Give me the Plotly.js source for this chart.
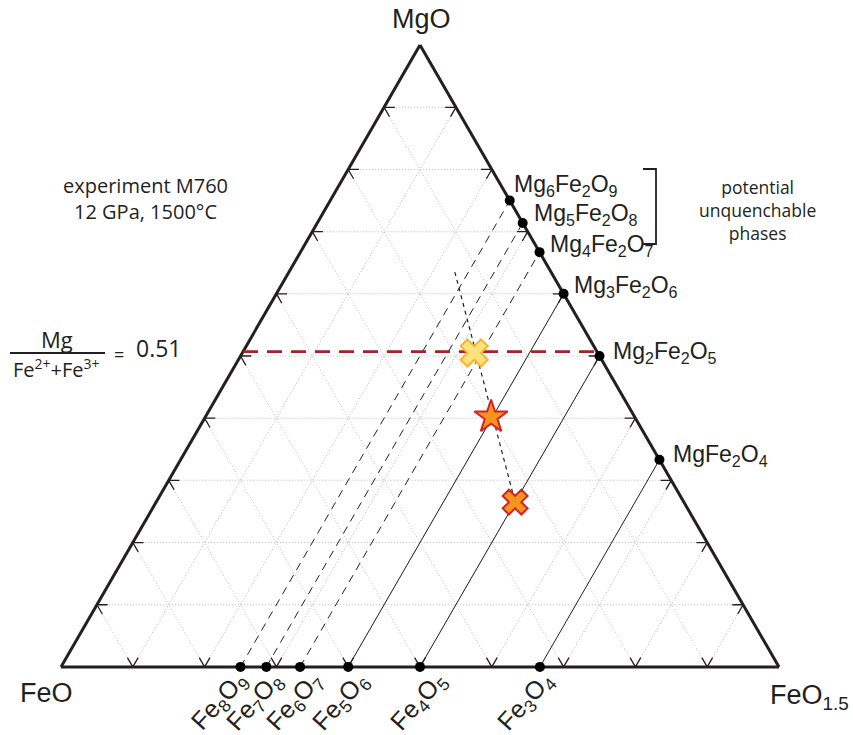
<!DOCTYPE html>
<html><head><meta charset="utf-8">
<script src="https://cdn.plot.ly/plotly-3.0.1.min.js"></script>
<style>html,body{margin:0;padding:0;background:#fff}#chart{width:853px;height:735px}</style>
</head><body><div id="chart"></div>
<script>
// ---------- DATA (ternary fractions: a = MgO, b = FeO, c = FeO1.5) ----------
const cornerLabels = ['MgO', 'FeO', 'FeO<sub>1.5</sub>'];

const edgePhases = ['Mg<sub>6</sub>Fe<sub>2</sub>O<sub>9</sub>', 'Mg<sub>5</sub>Fe<sub>2</sub>O<sub>8</sub>',
  'Mg<sub>4</sub>Fe<sub>2</sub>O<sub>7</sub>', 'Mg<sub>3</sub>Fe<sub>2</sub>O<sub>6</sub>',
  'Mg<sub>2</sub>Fe<sub>2</sub>O<sub>5</sub>', 'MgFe<sub>2</sub>O<sub>4</sub>'];
const edgeMgO   = [0.750, 0.714, 0.667, 0.600, 0.500, 0.333];
const edgeFeO   = [0, 0, 0, 0, 0, 0];
const edgeFeO15 = [0.250, 0.286, 0.333, 0.400, 0.500, 0.667];

const basePhases = ['Fe<sub>8</sub>O<sub>9</sub>', 'Fe<sub>7</sub>O<sub>8</sub>', 'Fe<sub>6</sub>O<sub>7</sub>',
  'Fe<sub>5</sub>O<sub>6</sub>', 'Fe<sub>4</sub>O<sub>5</sub>', 'Fe<sub>3</sub>O<sub>4</sub>'];
const baseMgO   = [0, 0, 0, 0, 0, 0];
const baseFeO   = [0.750, 0.714, 0.667, 0.600, 0.500, 0.333];
const baseFeO15 = [0.250, 0.286, 0.333, 0.400, 0.500, 0.667];

// tie lines: base phase i <-> edge phase i ; dashed = potential unquenchable phases
const tieDashed = [true, true, true, false, false, false];

// Mg/(Fe2+ + Fe3+) = 0.51 line
const ratioLabel = '0.51';
const ratioMgO = 0.507;

// experimental trend (short dashed line)
const trendMgO   = [0.635, 0.265];
const trendFeO   = [0.134, 0.235];
const trendFeO15 = [0.231, 0.500];

// experiment points: bulk (yellow cross), star, orange cross
const ptMgO   = [0.505, 0.402, 0.265];
const ptFeO   = [0.172, 0.200, 0.235];
const ptFeO15 = [0.323, 0.398, 0.500];

const gridTicks = [0.1, 0.2, 0.3, 0.4, 0.5, 0.6, 0.7, 0.8, 0.9];

// ---------- STYLE ----------
const INK = '#231f20';
const FONT = 'Liberation Sans, Arial, sans-serif';
const FONT2 = 'Open Sans, sans-serif';
const L = 0.015; // chevron stroke length (fraction)
const edgeLabelShift = [[2, 15], [9, 9], [8, 7], [8, 7], [11, 4], [12, 4]];
const baseLabelShift = [-21, -11, -5, -7, -1, -14];

// plot-area geometry helpers (paper coords)
const W = 853, H = 735, ML = 61, MR = 74, MT = 45, MB = 68;
const PW = W - ML - MR, PH = H - MT - MB;
const px2x = px => (px - ML) / PW;
const py2y = py => (H - MB - py) / PH;
const tern2x = (a, b, c) => (c + a / 2) / (a + b + c);
const tern2y = (a, b, c) => a / (a + b + c) * (PW * Math.sqrt(3) / 2) / PH;

const traces = [];

// chevron tick marks along each edge
const chA = [], chB = [], chC = [];
gridTicks.forEach(t => {
  chA.push(t, t, t - L, null); chB.push(1 - t - L, 1 - t, 1 - t, null); chC.push(L, 0, L, null);
  chA.push(L, 0, L, null); chB.push(1 - t - L, 1 - t, 1 - t, null); chC.push(t, t, t - L, null);
  chA.push(t, t, t - L, null); chB.push(L, 0, L, null); chC.push(1 - t - L, 1 - t, 1 - t, null);
});
traces.push({type: 'scatterternary', mode: 'lines', a: chA, b: chB, c: chC,
  line: {color: INK, width: 1.3}, connectgaps: false, hoverinfo: 'skip', showlegend: false});

// tie lines
for (let i = 0; i < basePhases.length; i++) {
  traces.push({type: 'scatterternary', mode: 'lines',
    a: [baseMgO[i], edgeMgO[i]], b: [baseFeO[i], edgeFeO[i]], c: [baseFeO15[i], edgeFeO15[i]],
    line: {color: INK, width: 1, dash: tieDashed[i] ? '8px,6px' : 'solid'},
    hoverinfo: 'skip', showlegend: false});
}

// red ratio line
traces.push({type: 'scatterternary', mode: 'lines',
  a: [ratioMgO, ratioMgO], b: [1 - ratioMgO, 0], c: [0, 1 - ratioMgO],
  line: {color: '#a8202a', width: 2.8, dash: '15px,9px'}, hoverinfo: 'skip', showlegend: false});

// trend dashed line
traces.push({type: 'scatterternary', mode: 'lines', a: trendMgO, b: trendFeO, c: trendFeO15,
  line: {color: INK, width: 1.2, dash: '4px,4px'}, hoverinfo: 'skip', showlegend: false});

// phase dots
traces.push({type: 'scatterternary', mode: 'markers', a: edgeMgO.concat(baseMgO),
  b: edgeFeO.concat(baseFeO), c: edgeFeO15.concat(baseFeO15), cliponaxis: false,
  marker: {color: '#000', size: 10, opacity: 1}, showlegend: false});

// experiment markers
traces.push({type: 'scatterternary', mode: 'markers', a: ptMgO, b: ptFeO, c: ptFeO15, cliponaxis: false,
  marker: {symbol: ['x', 'star', 'x'], size: [24, 25, 22], opacity: 1,
    color: ['#fbe27c', '#f7941d', '#f7941d'],
    line: {color: ['#f6b431', '#d2232a', '#cf2229'], width: 2}}, showlegend: false});

// ---------- ANNOTATIONS ----------
const ann = [];
ann.push({xref: 'paper', yref: 'paper', x: px2x(422), y: py2y(19), text: cornerLabels[0], showarrow: false,
  font: {family: FONT, size: 27, color: INK}, xanchor: 'center', yanchor: 'middle'});
ann.push({xref: 'paper', yref: 'paper', x: px2x(46), y: py2y(693), text: cornerLabels[1], showarrow: false,
  font: {family: FONT, size: 27, color: INK}, xanchor: 'center', yanchor: 'middle'});
ann.push({xref: 'paper', yref: 'paper', x: px2x(768), y: py2y(697), text: cornerLabels[2], showarrow: false,
  font: {family: FONT, size: 27, color: INK}, xanchor: 'left', yanchor: 'middle'});

edgePhases.forEach((t, i) => {
  ann.push({xref: 'paper', yref: 'paper', x: tern2x(edgeMgO[i], edgeFeO[i], edgeFeO15[i]),
    y: tern2y(edgeMgO[i], edgeFeO[i], edgeFeO15[i]), text: t, showarrow: false,
    xanchor: 'left', yanchor: 'middle', xshift: edgeLabelShift[i][0], yshift: edgeLabelShift[i][1],
    font: {family: FONT, size: 23, color: INK}});
});
basePhases.forEach((t, i) => {
  ann.push({xref: 'paper', yref: 'paper', x: tern2x(baseMgO[i], baseFeO[i], baseFeO15[i]),
    y: tern2y(baseMgO[i], baseFeO[i], baseFeO15[i]), text: t, showarrow: false, textangle: -48,
    xanchor: 'center', yanchor: 'middle', xshift: baseLabelShift[i], yshift: -35,
    font: {family: FONT, size: 25, color: INK}});
});

ann.push({xref: 'paper', yref: 'paper', x: px2x(757), y: py2y(210), showarrow: false,
  text: 'potential<br>unquenchable<br>phases', align: 'center', xanchor: 'center', yanchor: 'middle',
  font: {family: FONT2, size: 17.5, color: INK}});
ann.push({xref: 'paper', yref: 'paper', x: px2x(145), y: py2y(199), showarrow: false,
  text: 'experiment M760<br>12 GPa, 1500°C', align: 'center', xanchor: 'center', yanchor: 'middle',
  font: {family: FONT2, size: 20, color: INK}});
ann.push({xref: 'paper', yref: 'paper', x: px2x(57), y: py2y(339), showarrow: false, text: 'Mg',
  xanchor: 'center', yanchor: 'middle', font: {family: FONT2, size: 22, color: INK}});
ann.push({xref: 'paper', yref: 'paper', x: px2x(56), y: py2y(368), showarrow: false,
  text: 'Fe<sup>2+</sup>+Fe<sup>3+</sup>', xanchor: 'center', yanchor: 'middle',
  font: {family: FONT2, size: 20, color: INK}});
ann.push({xref: 'paper', yref: 'paper', x: px2x(119), y: py2y(354), showarrow: false, text: '=',
  xanchor: 'center', yanchor: 'middle', font: {family: FONT2, size: 18, color: INK}});
ann.push({xref: 'paper', yref: 'paper', x: px2x(159), y: py2y(348), showarrow: false, text: ratioLabel,
  xanchor: 'center', yanchor: 'middle', font: {family: FONT2, size: 23, color: INK}});

const shapes = [
  {type: 'line', xref: 'paper', yref: 'paper', x0: px2x(10), x1: px2x(105), y0: py2y(353), y1: py2y(353),
    line: {color: INK, width: 2}},
  {type: 'path', xref: 'paper', yref: 'paper',
    path: `M ${px2x(643)} ${py2y(169)} L ${px2x(656)} ${py2y(169)} L ${px2x(656)} ${py2y(244)} L ${px2x(643)} ${py2y(244)}`,
    line: {color: INK, width: 1.8}}
];

const axisStyle = {
  title: {text: ''}, showticklabels: false, ticks: '', showline: true, linecolor: INK, linewidth: 3,
  showgrid: true, gridcolor: '#bdbdbd', gridwidth: 1, griddash: '1px,2px', dtick: 0.1, tick0: 0,
  layer: 'below traces'
};

const layout = {
  width: W, height: H, paper_bgcolor: '#fff', showlegend: false,
  margin: {l: ML, r: MR, t: MT, b: MB, pad: 0},
  ternary: {sum: 1, bgcolor: 'rgba(0,0,0,0)', domain: {x: [0, 1], y: [0, 1]},
    aaxis: Object.assign({}, axisStyle), baxis: Object.assign({}, axisStyle), caxis: Object.assign({}, axisStyle)},
  annotations: ann, shapes: shapes
};

Plotly.newPlot('chart', traces, layout, {displayModeBar: false, staticPlot: true});
</script></body></html>
